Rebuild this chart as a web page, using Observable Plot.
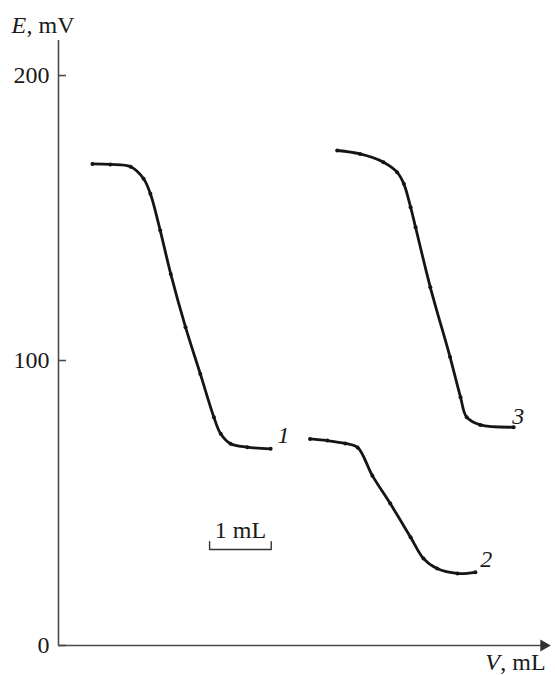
<!DOCTYPE html>
<html><head><meta charset="utf-8">
<script src="https://cdn.jsdelivr.net/npm/d3@7"></script>
<script src="https://cdn.jsdelivr.net/npm/@observablehq/plot@0.6"></script>
<style>body{margin:0;background:#fff} svg{display:block}</style>
</head><body><div id="chart"></div>
<script>
// Titration curves: E (mV) vs V (mL); x measured from the E axis
const curveLabels = ["1", "2", "3"];
const v1 = [0.55, 0.84, 1.17, 1.38, 1.49, 1.65, 1.82, 2.06, 2.30, 2.52, 2.63, 2.79, 3.06, 3.44];
const e1 = [169.0, 168.8, 168.0, 163.8, 158.5, 145.6, 130.4, 111.7, 95.3, 80.1, 74.3, 70.8, 69.6, 69.0];
const v2 = [4.08, 4.36, 4.65, 4.85, 5.09, 5.38, 5.71, 5.92, 6.14, 6.47, 6.76];
const e2 = [72.5, 71.9, 70.9, 69.5, 59.6, 49.8, 38.0, 30.5, 27.0, 25.3, 25.7];
const v3 = [4.52, 4.89, 5.27, 5.49, 5.60, 5.71, 5.79, 6.03, 6.35, 6.52, 6.62, 6.84, 7.38];
const e3 = [173.7, 172.5, 169.6, 166.1, 162.0, 153.8, 146.8, 125.7, 101.2, 87.1, 80.1, 77.4, 76.6];
const labelV = [3.55, 6.84, 7.36];
const labelE = [70.9, 27.4, 77.9];
const yTicks = [0, 100, 200];
const xMax = 7.93, yMax = 212.3;
const scaleBarStart = 2.45, scaleBarLength = 1, scaleBarE = 33.7, scaleBarTickE = 36.4;
const scaleBarText = "1 mL";

const series = [[v1, e1], [v2, e2], [v3, e3]];
const rows = [];
series.forEach(([v, e], i) => v.forEach((x, j) => rows.push({curve: curveLabels[i], v: x, e: e[j]})));
const labels = curveLabels.map((t, i) => ({t, v: labelV[i], e: labelE[i]}));
const bar = [
  {v: scaleBarStart, e: scaleBarTickE},
  {v: scaleBarStart, e: scaleBarE},
  {v: scaleBarStart + scaleBarLength, e: scaleBarE},
  {v: scaleBarStart + scaleBarLength, e: scaleBarTickE}
];

const serif = "'Liberation Serif', 'Times New Roman', Times, serif";
const axisColor = "#4a4a4a";

const plot = Plot.plot({
  width: 555, height: 675,
  marginLeft: 58, marginRight: 8, marginTop: 40, marginBottom: 30,
  x: {domain: [0, xMax], axis: null},
  y: {domain: [0, yMax], axis: null},
  style: {fontFamily: serif, background: "white", color: "#1a1a1a"},
  marks: [
    Plot.ruleX([0], {y1: 0, y2: yMax, stroke: axisColor, strokeWidth: 1.6}),
    Plot.ruleY([0], {x1: 0, x2: xMax - 0.08, stroke: axisColor, strokeWidth: 1.6}),
    Plot.dot([{v: xMax - 0.06, e: 0}], {x: "v", y: "e", symbol: "triangle", rotate: 90, r: 4.5, fill: "#333", stroke: "none"}),
    Plot.ruleY(yTicks, {x1: 0, x2: 0.13, stroke: axisColor, strokeWidth: 1.6}),
    Plot.text(yTicks, {x: 0, y: d => d, text: d => String(d), textAnchor: "end", dx: -9, fontSize: 24, fill: "#1a1a1a"}),
    Plot.text(["E"], {x: 0, y: yMax, text: d => d, textAnchor: "start", lineAnchor: "bottom", dx: -47, dy: -8, fontSize: 24, fontStyle: "italic", fill: "#1a1a1a"}),
    Plot.text([", mV"], {x: 0, y: yMax, text: d => d, textAnchor: "start", lineAnchor: "bottom", dx: -32, dy: -8, fontSize: 24, fill: "#1a1a1a"}),
    Plot.text(["V"], {x: 6.92, y: 0, text: d => d, textAnchor: "start", lineAnchor: "bottom", dy: 24, fontSize: 24, fontStyle: "italic", fill: "#1a1a1a"}),
    Plot.text([", mL"], {x: 6.92, y: 0, text: d => d, textAnchor: "start", lineAnchor: "bottom", dx: 15, dy: 24, fontSize: 24, fill: "#1a1a1a"}),
    Plot.line(rows, {x: "v", y: "e", z: "curve", curve: "catmull-rom", stroke: "#151515", strokeWidth: 2.8}),
    Plot.dot(rows, {x: "v", y: "e", r: 2, fill: "#151515"}),
    Plot.text(labels, {x: "v", y: "e", text: "t", textAnchor: "start", lineAnchor: "bottom", fontSize: 24, fontStyle: "italic", fill: "#1a1a1a"}),
    Plot.line(bar, {x: "v", y: "e", stroke: "#333", strokeWidth: 1.4}),
    Plot.text([scaleBarText], {x: scaleBarStart + scaleBarLength / 2, y: scaleBarTickE, text: d => d, textAnchor: "middle", lineAnchor: "bottom", dy: -4, fontSize: 24, fill: "#1a1a1a"})
  ]
});
document.getElementById("chart").appendChild(plot);
</script>
</body></html>
